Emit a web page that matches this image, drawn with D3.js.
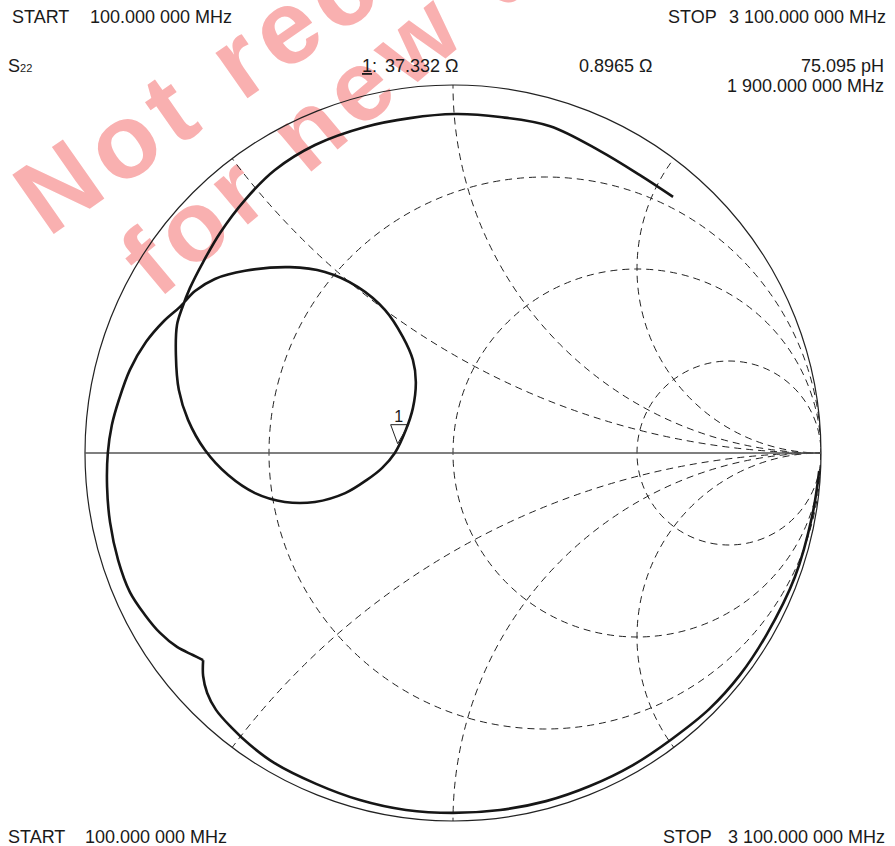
<!DOCTYPE html>
<html><head><meta charset="utf-8">
<script src="https://cdn.jsdelivr.net/npm/d3@7/dist/d3.min.js"></script>
<style>
html,body{margin:0;padding:0;background:#fff;}
text{font-family:"Liberation Sans",Arial,Helvetica,sans-serif;fill:#1a1a1a;}
</style></head>
<body>
<svg id="chart" width="895" height="846"></svg>
<script>
// ---- data ----
const startLabel = "100.000 000 MHz";
const stopLabel = "3 100.000 000 MHz";
const markerFreq = "1 900.000 000 MHz";
const markerR = 37.332, markerX = 0.8965, markerL = "75.095 pH";
const z0 = 50;
const resistanceCircles = [1/3, 1, 3];
const reactanceArcs = [0.5, 1, 2, -0.5, -1, -2];
// reflection coefficient trace (real, imag), 100 MHz -> 3100 MHz
const traceRe = [0.995,0.976,0.929,0.853,0.780,0.696,0.595,0.489,0.372,0.253,0.128,0.000,-0.128,-0.253,-0.372,-0.486,-0.552,-0.603,-0.644,-0.668,-0.679,-0.679,
  -0.707,-0.750,-0.796,-0.837,-0.878,-0.910,-0.932,-0.940,-0.938,-0.927,-0.908,-0.878,-0.834,-0.788,-0.742,
  -0.701,-0.647,-0.565,-0.443,-0.348,-0.258,-0.185,-0.136,-0.109,-0.101,-0.109,-0.128,-0.158,-0.193,-0.234,-0.293,-0.375,-0.457,-0.538,-0.611,-0.674,-0.720,-0.745,-0.753,-0.750,-0.736,
  -0.715,-0.679,-0.633,-0.565,-0.484,-0.375,-0.239,-0.117,0.005,0.128,0.264,0.399,0.508,0.598];
const traceIm = [-0.049,-0.171,-0.337,-0.492,-0.603,-0.696,-0.777,-0.848,-0.905,-0.946,-0.970,-0.978,-0.970,-0.943,-0.899,-0.842,-0.793,-0.745,-0.698,-0.652,-0.606,-0.563,
  -0.549,-0.527,-0.489,-0.440,-0.378,-0.291,-0.188,-0.092,0.000,0.076,0.144,0.226,0.302,0.356,0.397,
  0.440,0.473,0.495,0.505,0.492,0.451,0.389,0.315,0.253,0.193,0.122,0.063,0.000,-0.041,-0.073,-0.109,-0.133,-0.133,-0.109,-0.060,0.008,0.090,0.171,0.266,0.348,0.394,
  0.448,0.519,0.598,0.688,0.769,0.837,0.886,0.910,0.921,0.913,0.888,0.821,0.755,0.696];
const cuspIndex = 21;
const watermark = ["Not recommended", "for new designs"];

// ---- layout ----
const cx = 453, cy = 453, R = 368;
const svg = d3.select("#chart");
const xS = d3.scaleLinear().domain([-1, 1]).range([cx - R, cx + R]);
const yS = d3.scaleLinear().domain([-1, 1]).range([cy + R, cy - R]);
const rad = v => xS(v) - xS(0);

// watermark
const wm = svg.append("g").style("font-weight", "bold").style("letter-spacing", "8px");
wm.append("text").attr("transform", "translate(48,238) rotate(-35)")
  .style("fill", "#f9b0b0").style("font-size", "105px").text(watermark[0]);
wm.append("text").attr("transform", "translate(158,300) rotate(-40)")
  .style("fill", "#f9b0b0").style("font-size", "100px").text(watermark[1]);

// clip
svg.append("clipPath").attr("id", "unit").append("circle")
  .attr("cx", xS(0)).attr("cy", yS(0)).attr("r", rad(1));

const grid = svg.append("g").attr("clip-path", "url(#unit)")
  .attr("fill", "none").attr("stroke", "#222").attr("stroke-width", 1).attr("stroke-dasharray", "7,5");
grid.selectAll("circle.r").data(resistanceCircles).join("circle").attr("class", "r")
  .attr("cx", r => xS(r / (1 + r))).attr("cy", yS(0)).attr("r", r => rad(1 / (1 + r)));
grid.selectAll("circle.x").data(reactanceArcs).join("circle").attr("class", "x")
  .attr("cx", xS(1)).attr("cy", x => yS(1 / x)).attr("r", x => rad(1 / Math.abs(x)));

// outer circle & real axis
svg.append("circle").attr("cx", xS(0)).attr("cy", yS(0)).attr("r", rad(1))
  .attr("fill", "none").attr("stroke", "#222").attr("stroke-width", 1.2);
svg.append("line").attr("x1", xS(-1)).attr("x2", xS(1)).attr("y1", yS(0)).attr("y2", yS(0))
  .attr("stroke", "#555").attr("stroke-width", 1.4);

// trace
const pts = traceRe.map((g, i) => [g, traceIm[i]]);
const line = d3.line().x(d => xS(d[0])).y(d => yS(d[1])).curve(d3.curveCatmullRom.alpha(0.5));
[pts.slice(0, cuspIndex + 1), pts.slice(cuspIndex)].forEach(seg => {
  svg.append("path").attr("d", line(seg)).attr("fill", "none")
    .attr("stroke", "#161616").attr("stroke-width", 2.6).attr("stroke-linejoin", "round");
});

// marker
const zr = markerR / z0, zi = markerX / z0;
const den = (zr + 1) ** 2 + zi ** 2;
const gRe = ((zr - 1) * (zr + 1) + zi * zi) / den;
const gIm = (zi * (zr + 1) - (zr - 1) * zi) / den;
const mx = xS(gRe) - 2, my = yS(gIm) - 5;
svg.append("path").attr("d", `M${mx},${my} L${mx - 7},${my - 19} L${mx + 11},${my - 19} Z`)
  .attr("fill", "none").attr("stroke", "#222").attr("stroke-width", 1);
svg.append("text").attr("x", mx + 1).attr("y", my - 22).attr("text-anchor", "middle")
  .style("font-size", "16px").text("1");

// header/footer text
const fs = "18px";
function t(x, y, s, anchor) {
  return svg.append("text").attr("x", x).attr("y", y).attr("text-anchor", anchor || "start").style("font-size", fs).text(s);
}
t(12, 23, "START"); t(90, 23, startLabel);
t(668, 23, "STOP"); t(886, 23, stopLabel, "end");
t(8, 843, "START"); t(85, 843, startLabel);
t(663, 843, "STOP"); t(885, 843, stopLabel, "end");
const s22 = svg.append("text").attr("x", 8).attr("y", 72).style("font-size", fs);
s22.append("tspan").text("S");
s22.append("tspan").style("font-size", "11px").text("22");
const m1 = svg.append("text").attr("x", 362).attr("y", 72).style("font-size", fs);
m1.append("tspan").style("text-decoration", "underline").text("1");
m1.append("tspan").text(":");
t(385, 72, markerR.toFixed(3) + " Ω");
t(579, 72, markerX.toFixed(4) + " Ω");
t(884, 72, markerL, "end");
t(884, 92, markerFreq, "end");
</script>
</body></html>
